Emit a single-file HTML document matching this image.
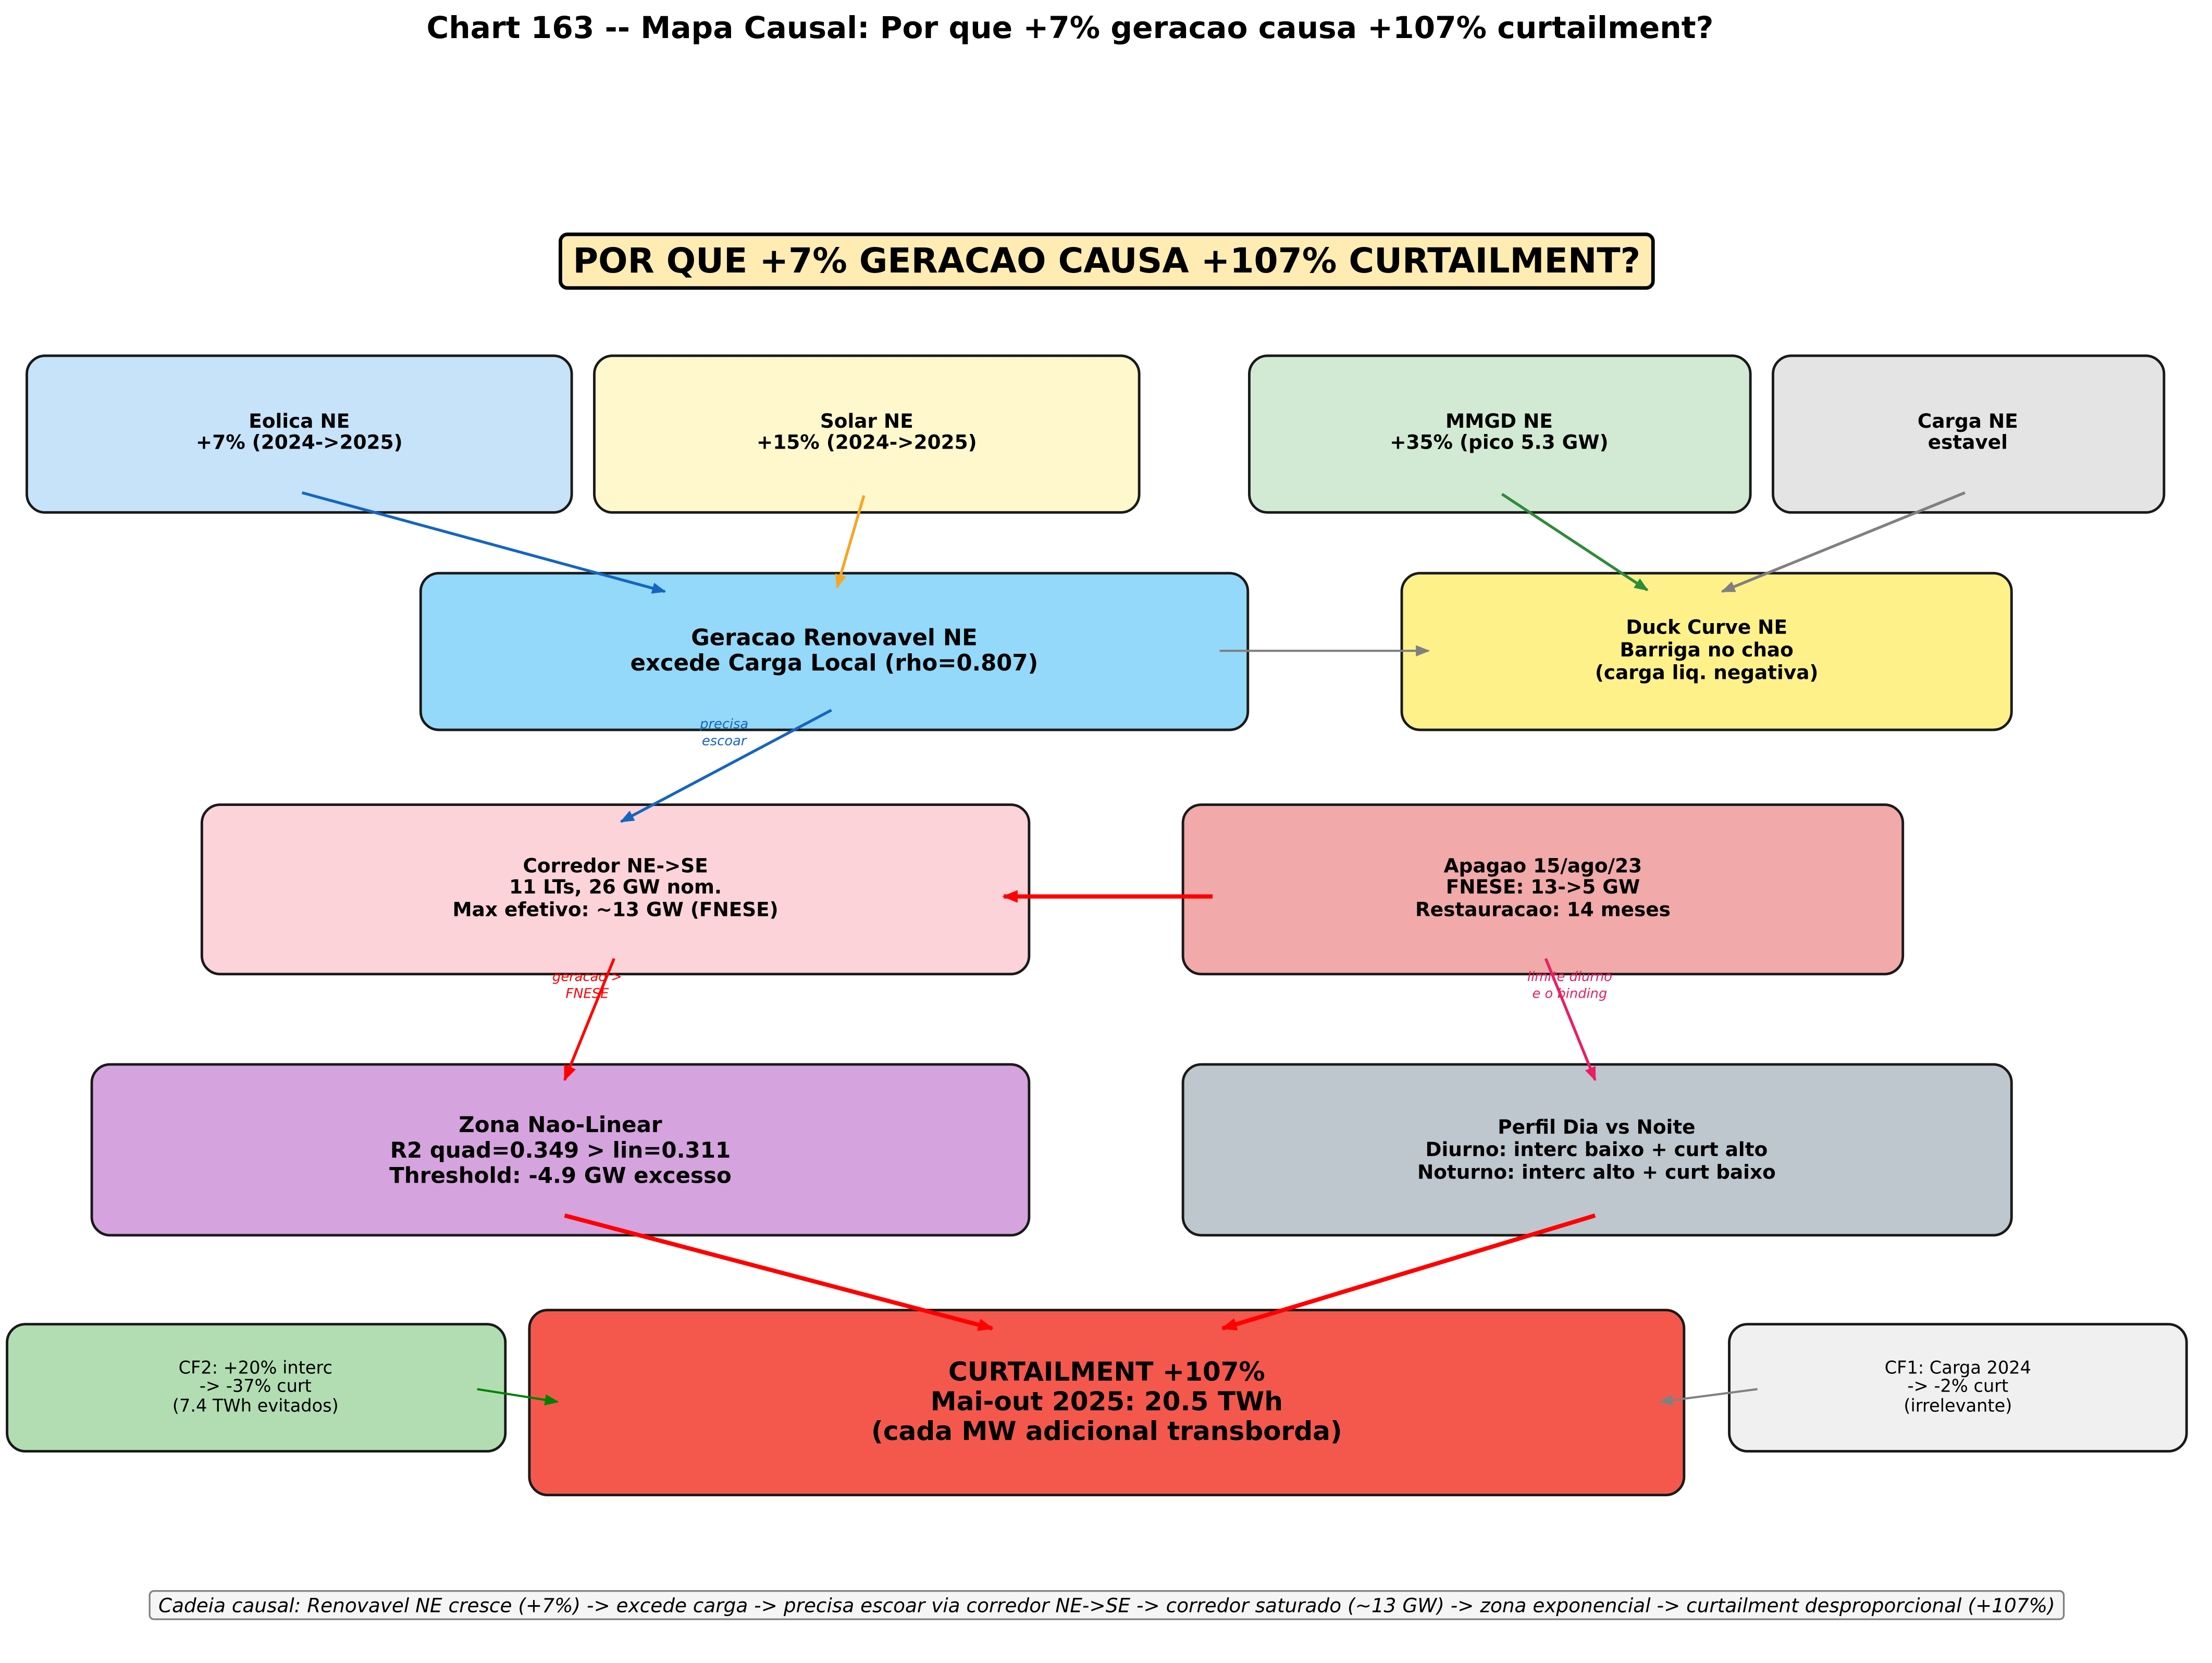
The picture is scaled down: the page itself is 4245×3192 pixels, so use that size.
<!DOCTYPE html>
<html><head><meta charset="utf-8"><style>
html,body{margin:0;padding:0;background:#fff;}
svg{display:block;}
text{font-family:"DejaVu Sans","Liberation Sans",sans-serif;}
</style></head><body>
<svg width="4245" height="3192" viewBox="0 0 1567 1178" preserveAspectRatio="none" xmlns="http://www.w3.org/2000/svg">
<defs>
<marker id="ab" markerWidth="10" markerHeight="8" refX="9" refY="4" orient="auto" markerUnits="userSpaceOnUse"><path d="M0,0 L10,4 L0,8 z" fill="#1565C0"/></marker>
<marker id="ao" markerWidth="10" markerHeight="8" refX="9" refY="4" orient="auto" markerUnits="userSpaceOnUse"><path d="M0,0 L10,4 L0,8 z" fill="#F5A623"/></marker>
<marker id="ag" markerWidth="10" markerHeight="8" refX="9" refY="4" orient="auto" markerUnits="userSpaceOnUse"><path d="M0,0 L10,4 L0,8 z" fill="#2E8B3A"/></marker>
<marker id="agg" markerWidth="10" markerHeight="8" refX="9" refY="4" orient="auto" markerUnits="userSpaceOnUse"><path d="M0,0 L10,4 L0,8 z" fill="#008000"/></marker>
<marker id="ay" markerWidth="10" markerHeight="8" refX="9" refY="4" orient="auto" markerUnits="userSpaceOnUse"><path d="M0,0 L10,4 L0,8 z" fill="#808080"/></marker>
<marker id="ar" markerWidth="11" markerHeight="9" refX="10" refY="4.5" orient="auto" markerUnits="userSpaceOnUse"><path d="M0,0 L11,4.5 L0,9 z" fill="#FF0000"/></marker>
<marker id="ap" markerWidth="10" markerHeight="8" refX="9" refY="4" orient="auto" markerUnits="userSpaceOnUse"><path d="M0,0 L10,4 L0,8 z" fill="#E91E63"/></marker>
</defs>
<rect width="1567" height="1178" fill="#fff"/>
<text x="758" y="27" text-anchor="middle" font-size="21.5" font-weight="bold">Chart 163 -- Mapa Causal: Por que +7% geracao causa +107% curtailment?</text>

<rect x="397" y="166" width="774" height="38" rx="5" fill="#FFECB3" stroke="#000" stroke-width="2.5"/>
<text x="784" y="193" text-anchor="middle" font-size="24.5" font-weight="bold">POR QUE +7% GERACAO CAUSA +107% CURTAILMENT?</text>

<g stroke="#1a1a1a" stroke-width="1.8">
<rect x="19" y="252" width="386" height="111" rx="13" fill="#C6E3F9"/>
<rect x="421" y="252" width="386" height="111" rx="13" fill="#FFF8CC"/>
<rect x="885" y="252" width="355" height="111" rx="13" fill="#D2EAD3"/>
<rect x="1256" y="252" width="277" height="111" rx="13" fill="#E4E4E4"/>
<rect x="298" y="406" width="586" height="111" rx="13" fill="#94D9F9"/>
<rect x="993" y="406" width="432" height="111" rx="13" fill="#FFF18A"/>
<rect x="143" y="570" width="586" height="120" rx="13" fill="#FDD3DA"/>
<rect x="838" y="570" width="510" height="120" rx="13" fill="#F1A9A9"/>
<rect x="65" y="754" width="664" height="121" rx="13" fill="#D5A3DE"/>
<rect x="838" y="754" width="587" height="121" rx="13" fill="#BDC7CD"/>
<rect x="5" y="938" width="353" height="90" rx="13" fill="#B2DDB3"/>
<rect x="375" y="928" width="818" height="131" rx="13" fill="#F4584C"/>
<rect x="1225" y="938" width="324" height="90" rx="13" fill="#F0F0F0"/>
</g>

<g font-weight="bold" font-size="13.8" text-anchor="middle">
<text x="212" y="303">Eolica NE</text><text x="212" y="318">+7% (2024-&gt;2025)</text>
<text x="614" y="303">Solar NE</text><text x="614" y="318">+15% (2024-&gt;2025)</text>
<text x="1062" y="303">MMGD NE</text><text x="1062" y="318">+35% (pico 5.3 GW)</text>
<text x="1394" y="303">Carga NE</text><text x="1394" y="318">estavel</text>
<text x="1209" y="449">Duck Curve NE</text><text x="1209" y="465">Barriga no chao</text><text x="1209" y="481">(carga liq. negativa)</text>
<text x="436" y="618">Corredor NE-&gt;SE</text><text x="436" y="633">11 LTs, 26 GW nom.</text><text x="436" y="649">Max efetivo: ~13 GW (FNESE)</text>
<text x="1093" y="618">Apagao 15/ago/23</text><text x="1093" y="633">FNESE: 13-&gt;5 GW</text><text x="1093" y="649">Restauracao: 14 meses</text>
<text x="1131" y="803">Perfil Dia vs Noite</text><text x="1131" y="819">Diurno: interc baixo + curt alto</text><text x="1131" y="835">Noturno: interc alto + curt baixo</text>
</g>
<g font-weight="bold" font-size="16" text-anchor="middle">
<text x="591" y="457">Geracao Renovavel NE</text><text x="591" y="475">excede Carga Local (rho=0.807)</text>
</g>
<g font-weight="bold" font-size="15.5" text-anchor="middle">
<text x="397" y="802">Zona Nao-Linear</text><text x="397" y="820">R2 quad=0.349 &gt; lin=0.311</text><text x="397" y="838">Threshold: -4.9 GW excesso</text>
</g>
<g font-weight="bold" font-size="18.5" text-anchor="middle">
<text x="784" y="978">CURTAILMENT +107%</text><text x="784" y="999">Mai-out 2025: 20.5 TWh</text><text x="784" y="1020">(cada MW adicional transborda)</text>
</g>
<g font-size="12.4" text-anchor="middle">
<text x="181" y="973">CF2: +20% interc</text><text x="181" y="986">-&gt; -37% curt</text><text x="181" y="1000">(7.4 TWh evitados)</text>
<text x="1387" y="973">CF1: Carga 2024</text><text x="1387" y="986">-&gt; -2% curt</text><text x="1387" y="1000">(irrelevante)</text>
</g>

<g fill="none">
<line x1="214" y1="349" x2="471" y2="419" stroke="#1565C0" stroke-width="2" marker-end="url(#ab)"/>
<line x1="612" y1="351" x2="593" y2="416" stroke="#F5A623" stroke-width="2" marker-end="url(#ao)"/>
<line x1="1064" y1="350" x2="1167" y2="418" stroke="#2E8B3A" stroke-width="2" marker-end="url(#ag)"/>
<line x1="1392" y1="349" x2="1220" y2="419" stroke="#808080" stroke-width="2" marker-end="url(#ay)"/>
<line x1="864" y1="461" x2="1012" y2="461" stroke="#808080" stroke-width="1.5" marker-end="url(#ay)"/>
<line x1="589" y1="503" x2="440" y2="582" stroke="#1565C0" stroke-width="2" marker-end="url(#ab)"/>
<line x1="859" y1="635" x2="711" y2="635" stroke="#FF0000" stroke-width="3" marker-end="url(#ar)"/>
<line x1="435" y1="679" x2="400" y2="765" stroke="#FF0000" stroke-width="2" marker-end="url(#ar)"/>
<line x1="1095" y1="679" x2="1130" y2="765" stroke="#E91E63" stroke-width="2" marker-end="url(#ap)"/>
<line x1="400" y1="861" x2="703" y2="941" stroke="#FF0000" stroke-width="3" marker-end="url(#ar)"/>
<line x1="1130" y1="861" x2="866" y2="941" stroke="#FF0000" stroke-width="3" marker-end="url(#ar)"/>
<line x1="338" y1="984" x2="395" y2="993" stroke="#008000" stroke-width="1.5" marker-end="url(#agg)"/>
<line x1="1245" y1="984" x2="1176" y2="993" stroke="#808080" stroke-width="1.5" marker-end="url(#ay)"/>
</g>
<g font-size="9.5" font-style="italic" text-anchor="middle">
<text x="513" y="516" fill="#1565C0">precisa</text><text x="513" y="528" fill="#1565C0">escoar</text>
<text x="416" y="695" fill="#FF0000">geracao &gt;</text><text x="416" y="707" fill="#FF0000">FNESE</text>
<text x="1112" y="695" fill="#E91E63">limite diurno</text><text x="1112" y="707" fill="#E91E63">e o binding</text>
</g>

<rect x="106" y="1127" width="1356" height="20" rx="3" fill="#F5F5F5" stroke="#808080" stroke-width="1.2"/>
<text x="784" y="1142" text-anchor="middle" font-size="13.8" font-style="italic">Cadeia causal: Renovavel NE cresce (+7%) -&gt; excede carga -&gt; precisa escoar via corredor NE-&gt;SE -&gt; corredor saturado (~13 GW) -&gt; zona exponencial -&gt; curtailment desproporcional (+107%)</text>
</svg>
</body></html>
